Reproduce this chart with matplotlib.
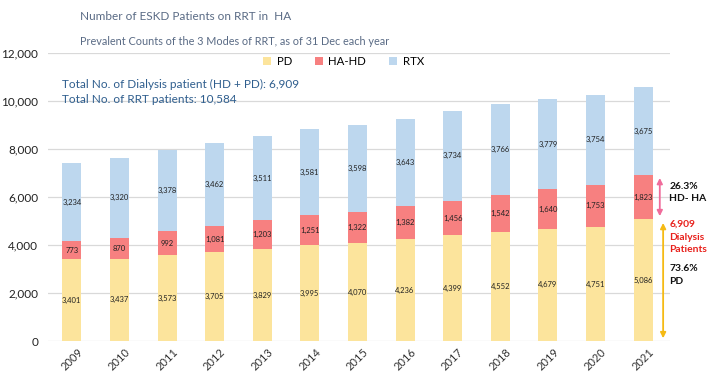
import matplotlib.pyplot as plt
import numpy as np

plt.rcParams['font.family'] = ['Lato', 'DejaVu Sans']

years = ["2009", "2010", "2011", "2012", "2013", "2014", "2015", "2016", "2017", "2018", "2019", "2020", "2021"]
pd_vals = [3401, 3437, 3573, 3705, 3829, 3995, 4070, 4236, 4399, 4552, 4679, 4751, 5086]
hd_vals = [773, 870, 992, 1081, 1203, 1251, 1322, 1382, 1456, 1542, 1640, 1753, 1823]
rtx_vals = [3234, 3320, 3378, 3462, 3511, 3581, 3598, 3643, 3734, 3766, 3779, 3754, 3675]
series_names = ["PD", "HA-HD", "RTX"]
colors = ["#FCE49C", "#F78080", "#BDD7EE"]
yticks = [0, 2000, 4000, 6000, 8000, 10000, 12000]

fig = plt.figure(figsize=(7.09, 3.76), dpi=100)
ax = fig.add_axes([0.0677, 0.093, 0.877, 0.766])

x = np.arange(len(years))
w = 0.4
pdv = np.array(pd_vals); hdv = np.array(hd_vals); rtv = np.array(rtx_vals)
ax.bar(x, pdv, w, color=colors[0], label=series_names[0], zorder=2)
ax.bar(x, hdv, w, bottom=pdv, color=colors[1], label=series_names[1], zorder=2)
ax.bar(x, rtv, w, bottom=pdv + hdv, color=colors[2], label=series_names[2], zorder=2)

for i in range(len(years)):
    ax.text(x[i], pdv[i] / 2, f"{int(pdv[i]):,}", ha="center", va="center", fontsize=5.5, color="#222222", zorder=3)
    ax.text(x[i], pdv[i] + hdv[i] / 2, f"{int(hdv[i]):,}", ha="center", va="center", fontsize=5.5, color="#222222", zorder=3)
    ax.text(x[i], pdv[i] + hdv[i] + rtv[i] / 2, f"{int(rtv[i]):,}", ha="center", va="center", fontsize=5.5, color="#222222", zorder=3)

ax.set_xlim(-0.5, 12.56)
ax.set_ylim(0, 12000)
ax.set_yticks(yticks)
ax.set_yticklabels([f"{v:,}" for v in yticks], fontsize=8.5, color="#222222")
ax.set_xticks(x)
ax.set_xticklabels(years, rotation=45, fontsize=8, color="#333333")
ax.tick_params(length=0)
ax.tick_params(axis="y", pad=7)
ax.tick_params(axis="x", pad=4)
for s in ax.spines.values():
    s.set_visible(False)
ax.grid(axis="y", color="#D9D9D9", linewidth=0.9, zorder=0)
ax.set_axisbelow(True)

ax.legend(loc="center", bbox_to_anchor=(0.475, 0.972), ncol=3, frameon=False,
          fontsize=8.2, handlelength=0.7, handleheight=0.7, columnspacing=2.0, handletextpad=0.5)

fig.text(0.113, 0.955, "Number of ESKD Patients on RRT in  HA", fontsize=8.5, color="#5A6B85", va="center")
fig.text(0.113, 0.89, "Prevalent Counts of the 3 Modes of RRT, as of 31 Dec each year", fontsize=7.8, color="#5A6B85", va="center")

ax.text(0.022, 0.892, "Total No. of Dialysis patient (HD + PD): 6,909", transform=ax.transAxes,
        fontsize=8.5, color="#2F5E8E", va="center")
ax.text(0.022, 0.840, "Total No. of RRT patients: 10,584", transform=ax.transAxes,
        fontsize=8.5, color="#2F5E8E", va="center")

last = len(years) - 1
top_d = pdv[last] + hdv[last]
ax.annotate("", xy=(12.35, top_d), xytext=(12.35, pdv[last]),
            arrowprops=dict(arrowstyle="<|-|>", color="#F06C9B", lw=1.3, mutation_scale=8), annotation_clip=False)
ax.annotate("", xy=(12.42, pdv[last] - 50), xytext=(12.42, 0),
            arrowprops=dict(arrowstyle="<|-|>", color="#F5BA14", lw=1.3, mutation_scale=8), annotation_clip=False)

tx = 12.55
ax.text(tx, 6190, "26.3%\nHD- HA", fontsize=7.4, fontweight="bold", color="#111111", va="center",
        linespacing=1.5, clip_on=False)
ax.text(tx, 4330, "6,909\nDialysis\nPatients", fontsize=7.4, fontweight="bold", color="#E8211C", va="center",
        linespacing=1.5, clip_on=False)
ax.text(tx, 2750, "73.6%\nPD", fontsize=7.4, fontweight="bold", color="#111111", va="center",
        linespacing=1.5, clip_on=False)

fig.savefig("out.png", dpi=100)
